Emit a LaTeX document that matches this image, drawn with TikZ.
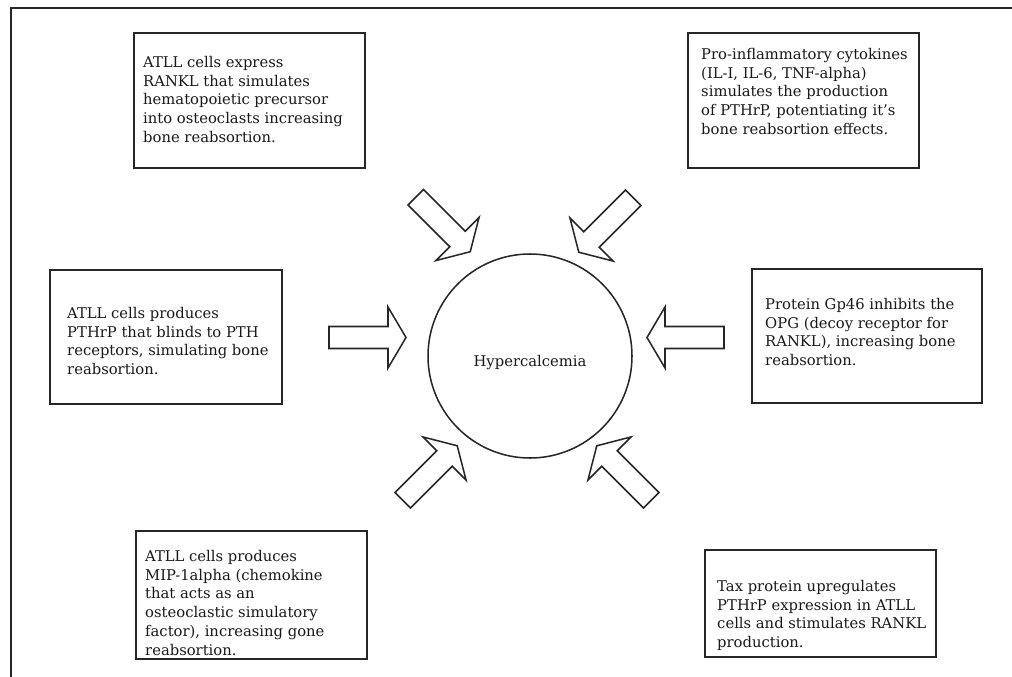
\documentclass[tikz,border=0pt]{standalone}
\usepackage{fontspec}
\setmainfont{DejaVu Serif}
\usepackage{tikz}
\usetikzlibrary{positioning, calc}
\newcommand\pxu{0.03cm}
\tikzset{%
	outerframe/.style={line width=1.2pt, draw=black!85},
	infobox/.style={draw=black!85, line width=1.6pt, rectangle, anchor=north west, inner sep=0mm},
	boxtext/.style={anchor=north west, align=left, inner sep=0mm, text=black!90,%
		font=\fontsize{12.6}{16}\selectfont},
	hyper/.style={draw=black!85, circle, line width=1.3pt, minimum size=204*\pxu, inner sep=0mm},
	hypertext/.style={text=black!90, font=\fontsize{12.6}{16}\selectfont, yshift=-7*\pxu},
	blk/.style={draw=black!85, line width=1.3pt, fill=white, line join=miter}
}
\newcommand\blockarrow[2]{% center, angle
	\begin{scope}[shift={(#1)}, rotate=#2]
		\draw[blk] (-38.5,-11) -- (20.5,-11) -- (20.5,-30.5) -- (38.5,0) -- (20.5,30.5) -- (20.5,11) -- (-38.5,11) -- cycle;
	\end{scope}
}

\begin{document}
\begin{tikzpicture}[x=\pxu, y=-\pxu]
	\useasboundingbox (0,0) rectangle (1012,677);
	\draw[outerframe] (1012,8) -- (11,8) -- (11,677);

	\node[hyper] (hc) at (530,356) {};
	\node[hypertext] (hclabel) at (hc) {Hypercalcemia};

	\node[infobox, minimum width=231*\pxu, minimum height=135*\pxu] (b1) at (133,32) {};
	\node[infobox, minimum width=231*\pxu, minimum height=135*\pxu] (b2) at (687,32) {};
	\node[infobox, minimum width=232*\pxu, minimum height=134*\pxu] (b3) at (49,269) {};
	\node[infobox, minimum width=230*\pxu, minimum height=134*\pxu] (b4) at (751,268) {};
	\node[infobox, minimum width=231*\pxu, minimum height=128*\pxu] (b5) at (135,530) {};
	\node[infobox, minimum width=231*\pxu, minimum height=107*\pxu] (b6) at (704,549) {};

	\node[boxtext] (t1) at ([shift={(10,24)}]b1.north west) {ATLL cells express\\RANKL that simulates\\hematopoietic precursor\\into osteoclasts increasing\\bone reabsortion.};
	\node[boxtext] (t2) at ([shift={(14,16)}]b2.north west) {Pro-inflammatory cytokines\\(IL-I, IL-6, TNF-alpha)\\simulates the production\\of PTHrP, potentiating it's\\bone reabsortion effects.};
	\node[boxtext] (t3) at ([shift={(18,38)}]b3.north west) {ATLL cells produces\\PTHrP that blinds to PTH\\receptors, simulating bone\\reabsortion.};
	\node[boxtext] (t4) at ([shift={(14,30)}]b4.north west) {Protein Gp46 inhibits the\\OPG (decoy receptor for\\RANKL), increasing bone\\reabsortion.};
	\node[boxtext] (t5) at ([shift={(10,20)}]b5.north west) {ATLL cells produces\\MIP-1alpha (chemokine\\that acts as an\\osteoclastic simulatory\\factor), increasing gone\\reabsortion.};
	\node[boxtext] (t6) at ([shift={(13,31)}]b6.north west) {Tax protein upregulates\\PTHrP expression in ATLL\\cells and stimulates RANKL\\production.};

	\coordinate (a1) at (443,224.5);
	\coordinate (a2) at (606,225);
	\coordinate (a3) at (367.5,337.5);
	\coordinate (a4) at (685.5,337.5);
	\coordinate (a5) at (430,473);
	\coordinate (a6) at (624,473);

	\blockarrow{a1}{-45}
	\blockarrow{a2}{-135}
	\blockarrow{a3}{0}
	\blockarrow{a4}{180}
	\blockarrow{a5}{45}
	\blockarrow{a6}{135}
\end{tikzpicture}
\end{document}
